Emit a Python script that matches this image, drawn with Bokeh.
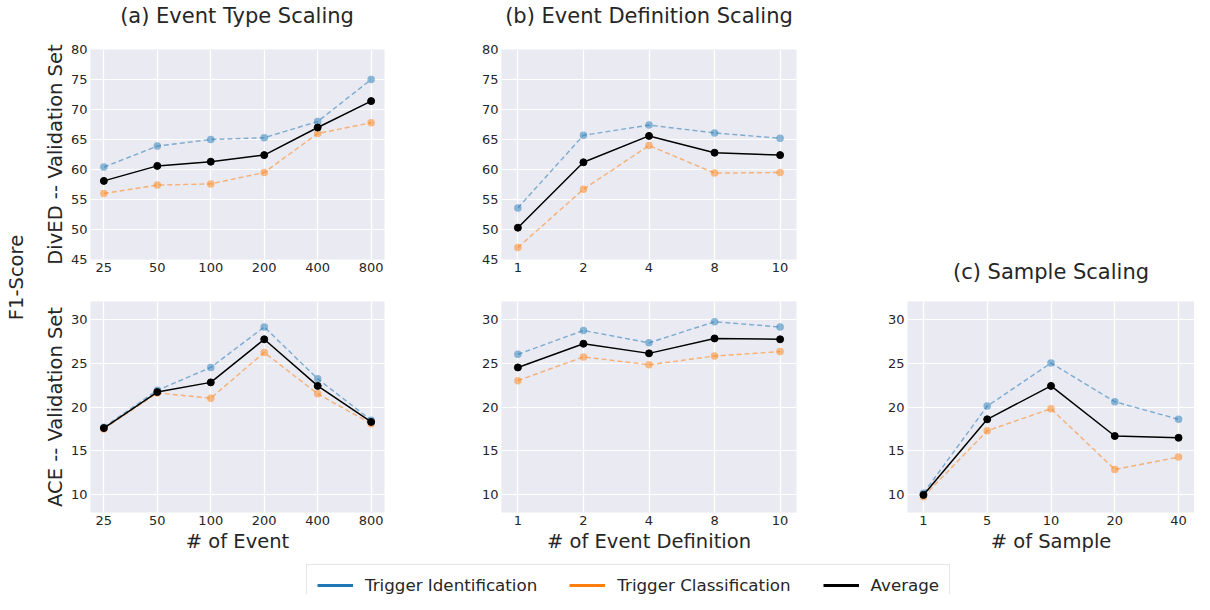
from bokeh.plotting import figure
from bokeh.layouts import row, column
from bokeh.models import Range1d, FixedTicker, Title, Legend, LegendItem
from bokeh.embed import file_html
from bokeh.resources import INLINE

# ---------------- data ----------------
type_cats = ["25", "50", "100", "200", "400", "800"]
def_cats = ["1", "2", "4", "8", "10"]
sample_cats = ["1", "5", "10", "20", "40"]

dived_type_ident = [60.4, 63.9, 65.0, 65.3, 68.0, 75.0]
dived_type_class = [56.0, 57.4, 57.6, 59.5, 66.0, 67.8]
dived_type_avg = [58.1, 60.6, 61.3, 62.4, 67.0, 71.4]

dived_def_ident = [53.6, 65.7, 67.4, 66.1, 65.2]
dived_def_class = [47.0, 56.7, 64.0, 59.4, 59.5]
dived_def_avg = [50.3, 61.2, 65.6, 62.8, 62.4]

ace_type_ident = [17.7, 21.9, 24.5, 29.1, 23.2, 18.5]
ace_type_class = [17.5, 21.6, 21.0, 26.2, 21.5, 18.1]
ace_type_avg = [17.6, 21.7, 22.8, 27.7, 22.4, 18.3]

ace_def_ident = [26.0, 28.7, 27.3, 29.7, 29.1]
ace_def_class = [23.0, 25.7, 24.8, 25.8, 26.3]
ace_def_avg = [24.5, 27.2, 26.1, 27.8, 27.7]

ace_sample_ident = [10.2, 20.1, 25.0, 20.6, 18.6]
ace_sample_class = [9.8, 17.3, 19.8, 12.9, 14.3]
ace_sample_avg = [10.0, 18.6, 22.4, 16.7, 16.5]

top_yrange = (45, 80)
top_yticks = [45, 50, 55, 60, 65, 70, 75, 80]
bot_yrange = (8, 32)
bot_yticks = [10, 15, 20, 25, 30]

series_names = ["Trigger Identification", "Trigger Classification", "Average"]
series_colors = ["#1f77b4", "#ff7f0e", "#000000"]

titles = ["(a) Event Type Scaling", "(b) Event Definition Scaling", "(c) Sample Scaling"]
ylabels = ["DivED -- Validation Set", "ACE -- Validation Set"]
xlabels = ["# of Event", "# of Event Definition", "# of Sample"]

FONT = "DejaVu Sans"
TXT = "#262626"
BG = "#EAEAF2"

# column geometry: (figure width, left border, right border)
COLS = [(390, 49, 46), (416, 71, 50), (348, 61, 0)]
TH, R1H, R2H, LH = 28, 257, 274, 35


def panel(cats, ident, cls, avg, yr, yticks, col, h, bt, bb, ylabel=None, xlabel=None):
    w, bl, br = COLS[col]
    n = len(cats)
    xs = list(range(n))
    p = figure(width=w, height=h, min_border_left=bl, min_border_right=br,
               min_border_top=bt, min_border_bottom=bb,
               x_range=Range1d(-0.25, n - 0.75), y_range=Range1d(*yr),
               output_backend="svg", toolbar_location=None,
               background_fill_color=BG, border_fill_color="white")
    p.outline_line_color = None
    p.xaxis.ticker = FixedTicker(ticks=xs)
    p.xaxis.major_label_overrides = {i: c for i, c in enumerate(cats)}
    p.yaxis.ticker = FixedTicker(ticks=yticks)
    for ax in (p.xaxis, p.yaxis):
        ax.axis_line_color = None
        ax.major_tick_line_color = None
        ax.minor_tick_line_color = None
        ax.major_tick_in = 0
        ax.major_tick_out = 0
        ax.major_label_text_font = FONT
        ax.major_label_text_font_size = "13px"
        ax.major_label_text_color = TXT
        ax.axis_label_text_font = FONT
        ax.axis_label_text_font_size = "19.5px"
        ax.axis_label_text_font_style = "normal"
        ax.axis_label_text_color = TXT
    p.xaxis.major_label_standoff = 3
    p.yaxis.major_label_standoff = 3
    p.xaxis.axis_label_standoff = 2
    if ylabel:
        # vertical label drawn as a left-side title so its length never squeezes the frame
        p.add_layout(Title(text=ylabel, align="center", text_font=FONT, text_font_size="19.5px",
                           text_font_style="normal", text_color=TXT, standoff=2), "left")
    if xlabel:
        p.xaxis.axis_label = xlabel
    p.xgrid.grid_line_color = "white"
    p.ygrid.grid_line_color = "white"
    p.xgrid.grid_line_width = 1.2
    p.ygrid.grid_line_width = 1.2

    for vals, c in ((ident, series_colors[0]), (cls, series_colors[1])):
        p.line(xs, vals, line_color=c, line_alpha=0.55, line_width=1.4, line_dash="5 3")
        p.scatter(xs, vals, size=7.5, fill_color=c, fill_alpha=0.5, line_color=None)
    p.line(xs, avg, line_color=series_colors[2], line_width=1.5)
    p.scatter(xs, avg, size=7, fill_color=series_colors[2], line_color=series_colors[2])
    return p


def blank(w, h, **kw):
    p = figure(width=w, height=h, x_range=Range1d(0, 1), y_range=Range1d(0, 1),
               x_axis_type=None, y_axis_type=None, output_backend="svg",
               toolbar_location=None, **kw)
    p.outline_line_color = None
    p.xgrid.visible = False
    p.ygrid.visible = False
    return p


def title_fig(col, h, text, standoff, valign="bottom"):
    w, bl, br = COLS[col]
    p = blank(w, h, min_border_left=bl, min_border_right=br, min_border_top=0, min_border_bottom=0)
    if text:
        p.add_layout(Title(text=text, align="center", vertical_align=valign, text_font=FONT,
                           text_font_size="21px", text_font_style="normal", text_color=TXT,
                           standoff=standoff), "below")
    return p


t_row = row(title_fig(0, TH, titles[0], 2), title_fig(1, TH, titles[1], 2), title_fig(2, TH, None, 2))

a1 = panel(type_cats, dived_type_ident, dived_type_class, dived_type_avg, top_yrange, top_yticks,
           0, R1H, 21, 26, ylabel=ylabels[0])
b1 = panel(def_cats, dived_def_ident, dived_def_class, dived_def_avg, top_yrange, top_yticks,
           1, R1H, 21, 26)
c1 = title_fig(2, R1H, titles[2], 0, valign="top")

a2 = panel(type_cats, ace_type_ident, ace_type_class, ace_type_avg, bot_yrange, bot_yticks,
           0, R2H, 16, 47, ylabel=ylabels[1], xlabel=xlabels[0])
b2 = panel(def_cats, ace_def_ident, ace_def_class, ace_def_avg, bot_yrange, bot_yticks,
           1, R2H, 16, 47, xlabel=xlabels[1])
c2 = panel(sample_cats, ace_sample_ident, ace_sample_class, ace_sample_avg, bot_yrange, bot_yticks,
           2, R2H, 16, 47, xlabel=xlabels[2])

left = blank(40, TH + R1H + R2H, min_border_left=0, min_border_right=0, min_border_top=0, min_border_bottom=5)
left.add_layout(Title(text="F1-Score", align="center", text_font=FONT, text_font_size="19.5px",
                      text_font_style="normal", text_color=TXT, standoff=4), "left")

# legend strip: line renderers kept outside the visible y range, only their legend glyphs show
leg = blank(1194, LH, min_border_left=0, min_border_right=0, min_border_top=0, min_border_bottom=0)
leg_src = [ace_def_ident, ace_def_class, ace_def_avg]
rends = [leg.line(list(range(len(v))), v, line_color=c, line_width=3)
         for v, c in zip(leg_src, series_colors)]
legend = Legend(items=[LegendItem(label=nm, renderers=[r]) for nm, r in zip(series_names, rends)],
                location=(306, -12), orientation="horizontal",
                label_text_font=FONT, label_text_font_size="16.7px", label_text_color=TXT,
                glyph_width=36, glyph_height=20, label_height=20, label_standoff=12,
                spacing=32, padding=10, margin=0,
                border_line_color="#cccccc", border_line_width=1,
                background_fill_color="white", background_fill_alpha=1.0)
leg.add_layout(legend, "center")

layout = column(row(left, column(t_row, row(a1, b1, c1), row(a2, b2, c2))), leg)

open("out.html", "w").write(file_html(layout, INLINE))
